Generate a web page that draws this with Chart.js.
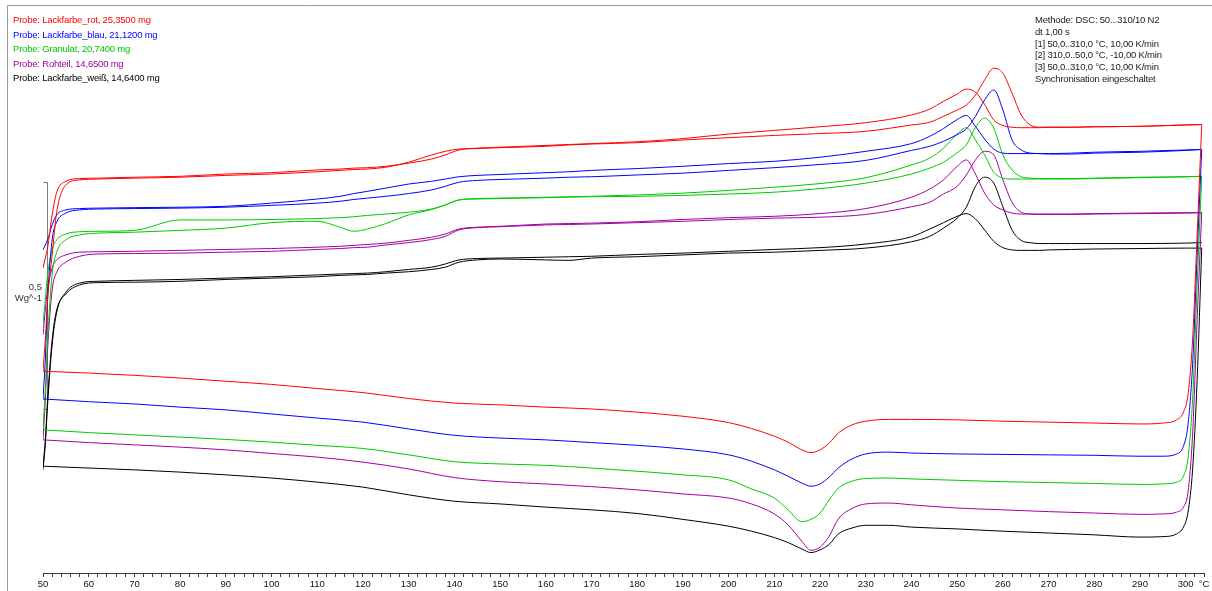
<!DOCTYPE html>
<html lang="de">
<head>
<meta charset="utf-8">
<title>DSC 50...310/10 N2</title>
<script src="https://cdn.jsdelivr.net/npm/chart.js@4/dist/chart.umd.min.js"></script>
<style>
  html, body { margin: 0; padding: 0; background: #fff; }
  #wrap { position: relative; width: 1212px; height: 591px; overflow: hidden; }
  #dsc { position: absolute; left: 0; top: 0; }
  .block { position: absolute; font-family: "Liberation Sans", Arial, sans-serif; font-size: 9.5px; letter-spacing: -0.2px; white-space: nowrap; }
  #samples { left: 13px; top: 13px; line-height: 14.5px; }
  #method { left: 1035px; top: 14px; line-height: 11.8px; color: #1a1a1a; }
</style>
</head>
<body>
<div id="wrap">
  <canvas id="dsc" width="1212" height="591"></canvas>
  <div id="samples" class="block"></div>
  <div id="method" class="block"></div>
</div>
<script>
// Temperature grids (°C): heating runs 50 -> 303.5, cooling run 303.5 -> 50
const heatTemps = [50, 50.5, 51, 52, 53, 55, 58, 62, 70, 80, 90, 100, 110, 115, 118, 121, 125, 130, 135, 138, 141, 145, 150, 160, 165, 170, 180, 190, 200, 210, 220, 230, 240, 244, 247, 250, 252, 254, 256, 258, 260, 262, 264, 266, 268, 270, 275, 280, 290, 300, 303.5];
const coolTemps = [303.5, 302.5, 301.5, 300.5, 299.5, 298, 295, 290, 280, 270, 260, 250, 240, 235, 230, 227, 224, 222, 220, 218, 216, 213, 210, 205, 200, 190, 180, 170, 160, 150, 140, 130, 120, 110, 100, 90, 80, 70, 60, 50];

// Heat flow (W/g, curves shifted for display)
const rotHeat1 = [0.671,0.693,0.715,0.788,0.838,0.862,0.868,0.869,0.871,0.873,0.878,0.881,0.887,0.889,0.891,0.892,0.895,0.902,0.911,0.920,0.931,0.935,0.937,0.941,0.943,0.945,0.949,0.956,0.966,0.974,0.982,0.991,1.008,1.021,1.038,1.054,1.065,1.058,1.031,0.997,0.985,0.981,0.980,0.980,0.980,0.981,0.981,0.982,0.983,0.986,0.987];
const rotCool = [0.987,0.744,0.513,0.392,0.354,0.337,0.330,0.328,0.330,0.332,0.334,0.337,0.338,0.338,0.334,0.326,0.308,0.286,0.271,0.265,0.271,0.288,0.301,0.318,0.331,0.345,0.354,0.361,0.365,0.370,0.374,0.384,0.397,0.406,0.415,0.422,0.429,0.435,0.440,0.444];
const rotHeat2 = [0.444,0.513,0.601,0.700,0.794,0.854,0.865,0.867,0.869,0.871,0.875,0.878,0.883,0.886,0.888,0.889,0.893,0.904,0.920,0.928,0.933,0.934,0.936,0.939,0.942,0.944,0.947,0.953,0.958,0.963,0.967,0.972,0.986,0.992,1.005,1.019,1.030,1.052,1.085,1.111,1.100,1.056,1.008,0.986,0.981,0.981,0.981,0.982,0.983,0.986,0.987];

const blauHeat1 = [0.711,0.722,0.733,0.766,0.788,0.799,0.802,0.803,0.804,0.805,0.807,0.814,0.823,0.829,0.835,0.840,0.847,0.856,0.862,0.867,0.872,0.875,0.877,0.881,0.883,0.886,0.890,0.895,0.901,0.906,0.915,0.928,0.945,0.961,0.978,0.998,1.007,0.983,0.955,0.933,0.924,0.923,0.923,0.923,0.923,0.923,0.924,0.926,0.928,0.931,0.932];
const blauCool = [0.932,0.700,0.458,0.326,0.279,0.262,0.257,0.257,0.259,0.260,0.261,0.262,0.264,0.266,0.262,0.251,0.231,0.211,0.196,0.191,0.198,0.213,0.227,0.246,0.260,0.273,0.281,0.287,0.293,0.297,0.303,0.317,0.332,0.341,0.350,0.359,0.365,0.372,0.377,0.383];
const blauHeat2 = [0.383,0.469,0.601,0.733,0.772,0.792,0.799,0.801,0.802,0.803,0.805,0.809,0.814,0.818,0.822,0.825,0.829,0.835,0.843,0.851,0.860,0.864,0.866,0.869,0.871,0.872,0.876,0.880,0.886,0.892,0.899,0.908,0.930,0.939,0.950,0.965,0.977,1.005,1.041,1.063,1.019,0.953,0.931,0.924,0.923,0.922,0.922,0.924,0.926,0.930,0.932];

const granHeat1 = [0.546,0.601,0.656,0.711,0.733,0.746,0.751,0.752,0.754,0.777,0.777,0.778,0.780,0.782,0.784,0.787,0.790,0.794,0.801,0.810,0.821,0.824,0.825,0.827,0.828,0.829,0.832,0.836,0.842,0.849,0.857,0.870,0.898,0.913,0.935,0.966,0.980,0.953,0.920,0.882,0.869,0.867,0.867,0.867,0.867,0.867,0.867,0.868,0.870,0.872,0.873];
const granCool = [0.873,0.634,0.381,0.253,0.213,0.200,0.196,0.195,0.197,0.199,0.201,0.204,0.207,0.209,0.208,0.202,0.187,0.161,0.132,0.118,0.113,0.139,0.165,0.185,0.205,0.216,0.224,0.231,0.237,0.240,0.245,0.260,0.274,0.281,0.288,0.294,0.299,0.304,0.309,0.315];
const granHeat2 = [0.315,0.403,0.513,0.656,0.706,0.733,0.744,0.748,0.750,0.754,0.759,0.771,0.774,0.761,0.752,0.757,0.769,0.788,0.800,0.810,0.821,0.823,0.824,0.826,0.827,0.828,0.829,0.831,0.834,0.838,0.846,0.858,0.878,0.891,0.904,0.925,0.942,0.981,1.001,0.979,0.920,0.887,0.872,0.869,0.868,0.868,0.868,0.869,0.871,0.872,0.873];

const rohHeat1 = [0.524,0.579,0.623,0.671,0.689,0.700,0.706,0.707,0.708,0.710,0.712,0.714,0.717,0.719,0.721,0.723,0.726,0.732,0.739,0.746,0.757,0.761,0.763,0.768,0.769,0.770,0.773,0.778,0.782,0.785,0.791,0.802,0.827,0.845,0.865,0.895,0.909,0.878,0.836,0.810,0.799,0.792,0.790,0.790,0.790,0.790,0.790,0.791,0.792,0.793,0.793];
const rohCool = [0.793,0.557,0.304,0.178,0.145,0.134,0.130,0.129,0.132,0.135,0.139,0.143,0.150,0.154,0.152,0.142,0.119,0.081,0.057,0.050,0.070,0.106,0.130,0.152,0.165,0.174,0.183,0.190,0.196,0.201,0.210,0.229,0.244,0.255,0.263,0.271,0.277,0.282,0.287,0.293];
const rohHeat2 = [0.293,0.381,0.491,0.623,0.662,0.684,0.697,0.702,0.703,0.704,0.706,0.708,0.712,0.714,0.716,0.717,0.722,0.727,0.734,0.741,0.755,0.760,0.762,0.766,0.767,0.768,0.771,0.774,0.778,0.781,0.783,0.789,0.806,0.816,0.834,0.851,0.876,0.909,0.928,0.920,0.865,0.816,0.794,0.790,0.789,0.789,0.789,0.790,0.791,0.792,0.793];

const weissHeat1 = [0.227,0.282,0.370,0.502,0.574,0.618,0.638,0.642,0.644,0.646,0.649,0.652,0.656,0.658,0.659,0.660,0.663,0.668,0.673,0.680,0.689,0.692,0.693,0.695,0.696,0.697,0.701,0.704,0.708,0.712,0.716,0.724,0.740,0.757,0.771,0.785,0.791,0.779,0.755,0.730,0.716,0.711,0.710,0.710,0.710,0.711,0.712,0.713,0.714,0.715,0.715];
const weissCool = [0.715,0.425,0.227,0.134,0.101,0.086,0.080,0.079,0.084,0.088,0.092,0.097,0.101,0.105,0.105,0.099,0.086,0.063,0.051,0.045,0.053,0.067,0.078,0.092,0.103,0.118,0.131,0.139,0.145,0.152,0.158,0.172,0.189,0.200,0.209,0.216,0.222,0.227,0.231,0.235];
const weissHeat2 = [0.235,0.293,0.381,0.513,0.579,0.614,0.634,0.639,0.640,0.642,0.646,0.649,0.652,0.655,0.656,0.657,0.660,0.663,0.668,0.673,0.684,0.689,0.691,0.689,0.688,0.693,0.696,0.700,0.704,0.706,0.710,0.715,0.729,0.741,0.759,0.781,0.805,0.851,0.871,0.858,0.806,0.755,0.732,0.727,0.725,0.725,0.725,0.725,0.725,0.726,0.727];

const sampleNames = [
  'Probe: Lackfarbe_rot, 25,3500 mg',
  'Probe: Lackfarbe_blau, 21,1200 mg',
  'Probe: Granulat, 20,7400 mg',
  'Probe: Rohteil, 14,6500 mg',
  'Probe: Lackfarbe_weiß, 14,6400 mg'
];
const methodLines = [
  'Methode: DSC: 50...310/10 N2',
  'dt 1,00 s',
  '[1] 50,0..310,0 °C, 10,00 K/min',
  '[2] 310,0..50,0 °C, -10,00 K/min',
  '[3] 50,0..310,0 °C, 10,00 K/min',
  'Synchronisation eingeschaltet'
];
const segmentNames = ['Heizen 1', 'Kühlen', 'Heizen 2'];

// Scale bar: 0,5 W/g
const scaleBarTop = 0.86;
const scaleBarSpan = 0.5;

const sampleColors = ['#ff0000', '#0000ff', '#00c800', '#a000a0', '#000000'];
const sampleRuns = [
  [rotHeat1, rotCool, rotHeat2],
  [blauHeat1, blauCool, blauHeat2],
  [granHeat1, granCool, granHeat2],
  [rohHeat1, rohCool, rohHeat2],
  [weissHeat1, weissCool, weissHeat2]
];

const FONT = '"Liberation Sans", Arial, sans-serif';

const datasets = [];
sampleRuns.forEach((runs, s) => {
  runs.forEach((vals, k) => {
    const temps = k === 1 ? coolTemps : heatTemps;
    datasets.push({
      label: sampleNames[s] + ' – ' + segmentNames[k],
      data: temps.map((t, i) => ({ x: t, y: vals[i] })),
      borderColor: sampleColors[s],
      borderWidth: 1,
      pointRadius: 0,
      fill: false,
      cubicInterpolationMode: 'monotone'
    });
  });
});

// Outer frame (left and top rule)
const framePlugin = {
  id: 'frame',
  beforeDraw(chart) {
    const { ctx, width, height } = chart;
    ctx.save();
    ctx.strokeStyle = '#9a9a9a';
    ctx.lineWidth = 1;
    ctx.beginPath();
    ctx.moveTo(7.5, height);
    ctx.lineTo(7.5, 5.5);
    ctx.lineTo(width, 5.5);
    ctx.stroke();
    ctx.restore();
  }
};

// Heat-flow scale bar drawn from the y scale
const scaleBarPlugin = {
  id: 'scaleBar',
  beforeDatasetsDraw(chart) {
    const { ctx, chartArea, scales } = chart;
    const y = scales.y;
    const top = Math.round(y.getPixelForValue(scaleBarTop)) + 0.5;
    const bottom = Math.round(y.getPixelForValue(scaleBarTop - scaleBarSpan)) + 0.5;
    const x = chartArea.left + 4.5;
    ctx.save();
    ctx.strokeStyle = '#7a7a7a';
    ctx.lineWidth = 1;
    ctx.beginPath();
    ctx.moveTo(x - 4, top);
    ctx.lineTo(x, top);
    ctx.lineTo(x, bottom);
    ctx.lineTo(x - 4, bottom);
    ctx.stroke();
    const mid = (top + bottom) / 2;
    ctx.fillStyle = '#333';
    ctx.font = '9.5px ' + FONT;
    ctx.textAlign = 'right';
    ctx.textBaseline = 'middle';
    ctx.fillText(String(scaleBarSpan).replace('.', ','), chartArea.left - 1, mid - 9);
    ctx.fillText('Wg^-1', chartArea.left - 1, mid + 2);
    ctx.restore();
  }
};

new Chart(document.getElementById('dsc'), {
  type: 'line',
  data: { datasets },
  options: {
    responsive: false,
    devicePixelRatio: 1,
    animation: false,
    layout: { padding: { left: 43, right: 8, top: 5, bottom: 0 } },
    plugins: { legend: { display: false }, tooltip: { enabled: false } },
    scales: {
      x: {
        type: 'linear',
        min: 50,
        max: 304,
        border: { display: true, color: '#3a3a3a', width: 1 },
        grid: { display: true, drawOnChartArea: false, drawTicks: true, tickLength: 4, color: '#3a3a3a' },
        ticks: {
          stepSize: 2,
          autoSkip: false,
          maxRotation: 0,
          minRotation: 0,
          padding: 2,
          color: '#111',
          font: { family: FONT, size: 9.5 },
          callback: (v) => v === 304 ? '°C' : (v % 10 === 0 ? String(v) : '')
        },
        afterFit: (scale) => { scale.height = 18; }
      },
      y: { type: 'linear', min: 0, max: 1.25, display: false }
    }
  },
  plugins: [framePlugin, scaleBarPlugin]
});

// Sample list and method description
const samplesBox = document.getElementById('samples');
sampleNames.forEach((name, i) => {
  const d = document.createElement('div');
  d.textContent = name;
  d.style.color = sampleColors[i];
  samplesBox.appendChild(d);
});
const methodBox = document.getElementById('method');
methodLines.forEach((line) => {
  const d = document.createElement('div');
  d.textContent = line;
  methodBox.appendChild(d);
});
</script>
</body>
</html>
